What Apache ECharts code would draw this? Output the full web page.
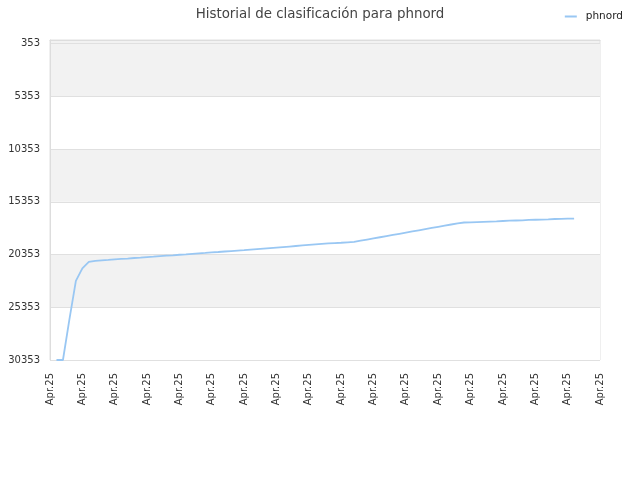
<!DOCTYPE html>
<html lang="es">
<head>
    <meta charset="utf-8">
    <title>Historial de clasificación</title>
    <script src="https://cdn.jsdelivr.net/npm/echarts@6/dist/echarts.min.js"></script>
    <style>
        html, body { margin: 0; padding: 0; background: #fff; }
        #main { width: 640px; height: 480px; }
    </style>
</head>
<body>
    <div id="main"></div>

    <script type="text/javascript">
    // categorias del eje x (todas "Apr.25")
    var fechas = [];
    for (var k = 0; k < 86; k++) fechas.push('Apr.25');

    // posicion de phnord
    var posiciones = ['-', 30353, 30353, 26500, 22850, 21660, 21050, 20950, 20900, 20860,
        20810, 20770, 20730, 20680, 20640, 20590, 20550, 20500, 20460, 20420,
        20370, 20330, 20280, 20240, 20200, 20150, 20110, 20060, 20020, 19980,
        19940, 19890, 19840, 19790, 19740, 19690, 19640, 19590, 19540, 19490,
        19440, 19390, 19340, 19300, 19260, 19230, 19190, 19150, 19040, 18930,
        18820, 18710, 18600, 18490, 18380, 18270, 18160, 18050, 17940, 17830,
        17720, 17610, 17500, 17390, 17310, 17290, 17270, 17250, 17230, 17210,
        17170, 17140, 17120, 17100, 17070, 17050, 17030, 17010, 16980, 16970,
        16950, 16940, '-', '-', '-', '-'];

    // marcas del eje y
    var marcasY = [353, 5353, 10353, 15353, 20353, 25353, 30353];

    var myChart = echarts.init(document.getElementById('main'));

    myChart.setOption({
        animation: false,
        textStyle: { fontFamily: 'DejaVu Sans' },
        title: {
            text: 'Historial de clasificación para phnord',
            left: 'center',
            top: 3,
            textStyle: { fontSize: 13.4, fontWeight: 'normal', color: '#444', fontFamily: 'DejaVu Sans' }
        },
        legend: {
            right: 12,
            top: 6,
            itemWidth: 12,
            itemHeight: 2,
            icon: 'rect',
            textStyle: { fontSize: 10.5, color: '#222', padding: [0, 0, 0, 4] },
            data: ['phnord']
        },
        grid: {
            left: 50, right: 40, top: 40, bottom: 120,
            show: true,
            backgroundColor: '#f2f2f2',
            borderColor: '#e0e0e0',
            borderWidth: 1
        },
        xAxis: {
            type: 'category',
            data: fechas,
            boundaryGap: false,
            axisLine: { lineStyle: { color: '#ddd' } },
            axisTick: { show: false },
            axisLabel: { interval: 4, rotate: 90, fontSize: 10, color: '#333', margin: 13 },
            splitLine: { show: false }
        },
        yAxis: {
            type: 'value',
            inverse: true,
            min: 0,
            max: 30353,
            axisLine: { show: true, lineStyle: { color: '#ddd' } },
            axisTick: { show: false, customValues: marcasY },
            axisLabel: {
                customValues: marcasY,
                fontSize: 10,
                color: '#333',
                margin: 10,
                formatter: function (v) { return String(v); }
            },
            splitLine: { show: true, lineStyle: { color: '#e0e0e0' } },
            splitArea: { show: true, areaStyle: { color: ['#f2f2f2', '#ffffff'] } }
        },
        series: [{
            name: 'phnord',
            type: 'line',
            data: posiciones,
            symbol: 'none',
            itemStyle: { color: '#99c7f3' },
            lineStyle: { color: '#99c7f3', width: 1.8 }
        }]
    });
    </script>
</body>
</html>
